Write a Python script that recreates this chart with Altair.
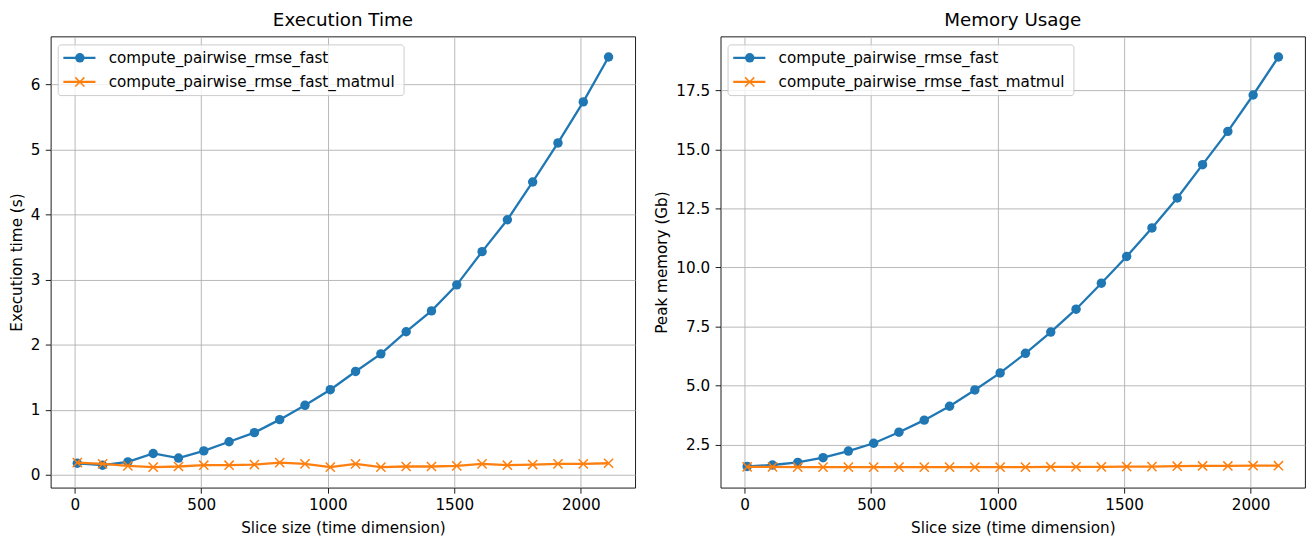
import altair as alt
import pandas as pd

# ---------------- data ----------------
slice_sizes = [10, 110, 210, 310, 410, 510, 610, 710, 810, 910, 1010,
               1110, 1210, 1310, 1410, 1510, 1610, 1710, 1810, 1910, 2010, 2110]
series_names = ["compute_pairwise_rmse_fast", "compute_pairwise_rmse_fast_matmul"]

time_fast = [0.18, 0.15, 0.20, 0.33, 0.26, 0.37, 0.51, 0.65, 0.85, 1.07, 1.31,
             1.59, 1.86, 2.20, 2.52, 2.92, 3.43, 3.92, 4.50, 5.10, 5.73, 6.42]
time_matmul = [0.19, 0.17, 0.14, 0.12, 0.13, 0.15, 0.15, 0.16, 0.19, 0.17, 0.12,
               0.17, 0.12, 0.13, 0.13, 0.14, 0.17, 0.15, 0.16, 0.17, 0.17, 0.18]

mem_fast = [1.57, 1.63, 1.74, 1.94, 2.22, 2.55, 3.02, 3.53, 4.12, 4.81, 5.53,
            6.36, 7.26, 8.23, 9.33, 10.46, 11.67, 12.94, 14.35, 15.76, 17.30, 18.91]
mem_matmul = [1.55, 1.55, 1.54, 1.54, 1.54, 1.54, 1.54, 1.54, 1.54, 1.54, 1.54,
              1.54, 1.55, 1.55, 1.55, 1.56, 1.56, 1.58, 1.59, 1.59, 1.60, 1.60]

x_ticks = [0, 500, 1000, 1500, 2000]
time_ticks = [0, 1, 2, 3, 4, 5, 6]
mem_ticks = [2.5, 5.0, 7.5, 10.0, 12.5, 15.0, 17.5]

colors = ["#1f77b4", "#ff7f0e"]
FONT = "DejaVu Sans"
FS = 15.3
X_PATH = "M-1,-1L1,1M-1,1L1,-1"
CIRCLE_SIZE = 90
X_SIZE = 85


def make_panel(fast_vals, matmul_vals, title, ytitle, ydomain, yticks, yfmt):
    n = len(slice_sizes)
    df = pd.DataFrame({
        "x": slice_sizes + slice_sizes,
        "y": fast_vals + matmul_vals,
        "series": [series_names[0]] * n + [series_names[1]] * n,
    })
    base = alt.Chart(df).encode(
        x=alt.X("x:Q",
                scale=alt.Scale(domain=[-95, 2215], nice=False, zero=False),
                axis=alt.Axis(values=x_ticks, format="d",
                              title="Slice size (time dimension)")),
        y=alt.Y("y:Q",
                scale=alt.Scale(domain=ydomain, nice=False, zero=False),
                axis=alt.Axis(values=yticks, format=yfmt, title=ytitle)),
    )
    f0 = alt.datum.series == series_names[0]
    f1 = alt.datum.series == series_names[1]
    fast_line = base.transform_filter(f0).mark_line(color=colors[0], strokeWidth=2.3)
    fast_pts = base.transform_filter(f0).mark_point(
        shape="circle", filled=True, size=CIRCLE_SIZE, color=colors[0], opacity=1)
    mat_line = base.transform_filter(f1).mark_line(color=colors[1], strokeWidth=2.3)
    mat_pts = base.transform_filter(f1).mark_point(
        shape=X_PATH, filled=False, size=X_SIZE, color=colors[1],
        strokeWidth=1.5, opacity=1)

    one = alt.Data(values=[{"k": 0}])
    box = alt.Chart(one).mark_rect(
        fill="white", fillOpacity=0.8, stroke="#cccccc", strokeWidth=1,
        cornerRadius=3).encode(
        x=alt.value(7.5), x2=alt.value(355.5), y=alt.value(8.5), y2=alt.value(59.5))
    layers = [fast_line, fast_pts, mat_line, mat_pts, box]
    rows = [21.5, 45.8]
    for i, name in enumerate(series_names):
        yy = rows[i]
        layers.append(alt.Chart(one).mark_rule(color=colors[i], strokeWidth=2.3).encode(
            x=alt.value(12.7), x2=alt.value(45), y=alt.value(yy)))
        if i == 0:
            mk = alt.Chart(one).mark_point(shape="circle", filled=True, size=CIRCLE_SIZE,
                                           color=colors[i], opacity=1)
        else:
            mk = alt.Chart(one).mark_point(shape=X_PATH, filled=False, size=X_SIZE,
                                           color=colors[i], strokeWidth=1.5, opacity=1)
        layers.append(mk.encode(x=alt.value(29.3), y=alt.value(yy)))
        layers.append(alt.Chart(one).mark_text(
            align="left", baseline="middle", font=FONT, fontSize=FS,
            color="black").encode(
            x=alt.value(58.3), y=alt.value(yy), text=alt.value(name)))

    return alt.layer(*layers).properties(
        width=588, height=454,
        title=alt.TitleParams(title, font=FONT, fontSize=18.4, fontWeight="normal",
                              color="black", offset=7.5, anchor="middle"),
    )


left = make_panel(time_fast, time_matmul, "Execution Time", "Execution time (s)",
                  [-0.195, 6.735], time_ticks, "d")
right = make_panel(mem_fast, mem_matmul, "Memory Usage", "Peak memory (Gb)",
                   [0.67, 19.78], mem_ticks, ".1f")

chart = alt.hconcat(left, right, spacing=18).properties(
    padding={"left": 0, "top": 0, "right": 0, "bottom": 0},
    background="white",
).configure_view(
    stroke="black", strokeWidth=0.9
).configure_axis(
    grid=True, gridColor="#b0b0b0", gridWidth=0.9, domain=False,
    tickColor="black", tickSize=5.5, tickWidth=0.9,
    labelFont=FONT, labelFontSize=FS, labelColor="black",
    titleFont=FONT, titleFontSize=FS, titleFontWeight="normal", titleColor="black",
    labelFlush=False, labelOverlap=False,
).configure_axisY(
    labelPadding=5.5, titlePadding=6
).configure_axisX(
    labelPadding=4, titlePadding=8
)

chart.save("out.html", embed_options={"renderer": "svg", "actions": False})
